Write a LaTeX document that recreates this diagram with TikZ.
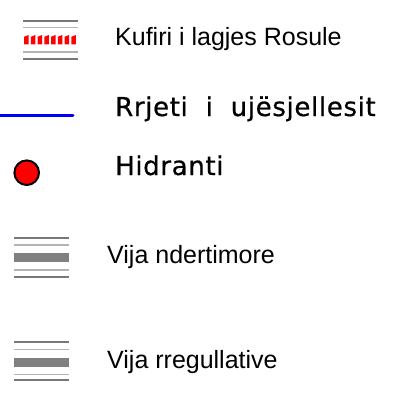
\documentclass[tikz,border=0pt]{standalone}
\usepackage{fontspec}
\setmainfont{Liberation Sans}
\newfontfamily\cadfont[LetterSpace=2.5,FakeBold=0.6]{DejaVu Sans}
\definecolor{darkg}{HTML}{787878}
\definecolor{lightg}{HTML}{B4B4B4}
\definecolor{bandg}{HTML}{808080}
\begin{document}
\begin{tikzpicture}[x=1pt,y=-1pt,
  darkline/.style={draw=darkg,line width=2pt},
  lightline/.style={draw=lightg,line width=1.6pt},
  band/.style={fill=bandg},
  reddash/.style={fill=red},
  lbl/.style={anchor=base west,inner sep=0pt,font=\fontsize{25}{30}\selectfont},
  cad/.style={anchor=base west,inner sep=0pt,font=\cadfont\fontsize{26}{30}\selectfont}]
\useasboundingbox (0,0) rectangle (398,405);
% symbol 1: Kufiri
\draw[darkline] (23.3,21) -- (78.3,21);
\draw[lightline] (23.3,27.5) -- (78.3,27.5);
\foreach \i in {0,...,7}{
  \fill[reddash] ({24+6.75*\i},36.8) -- ({28.6+6.75*\i},35) -- ({28.6+6.75*\i},44.3) -- ({24+6.75*\i},44.3) -- cycle;
}
\draw[lightline] (23.3,52) -- (78.3,52);
\draw[darkline] (23.3,58.7) -- (78.3,58.7);
\node[lbl] (t1) at (115,45) {Kufiri i lagjes Rosule};
% symbol 2: blue line
\draw[blue,line width=3pt,line cap=round] (-2,115) -- (73,115);
\node[cad] (t2) at (115,116) {Rrjeti\ \ i\ \ ujësjellesit};
% symbol 3: hydrant
\draw[fill=red,draw=black,line width=2pt] (26.7,172.7) circle (12.3);
\node[cad] (t3) at (115,175) {Hidranti};
% symbol 4
\draw[darkline] (14,238.3) -- (69,238.3);
\draw[lightline] (14,245) -- (69,245);
\fill[band] (14,252.7) rectangle (69,262.3);
\draw[lightline] (14,270) -- (69,270);
\draw[darkline] (14,276.7) -- (69,276.7);
\node[lbl] (t4) at (107,263) {Vija ndertimore};
% symbol 5
\draw[darkline] (14,342.3) -- (69,342.3);
\draw[lightline] (14,349.3) -- (69,349.3);
\fill[band] (14,357.7) rectangle (69,366.7);
\draw[lightline] (14,374.3) -- (69,374.3);
\draw[darkline] (14,380.3) -- (69,380.3);
\node[lbl] (t5) at (107,368) {Vija rregullative};
\end{tikzpicture}
\end{document}
